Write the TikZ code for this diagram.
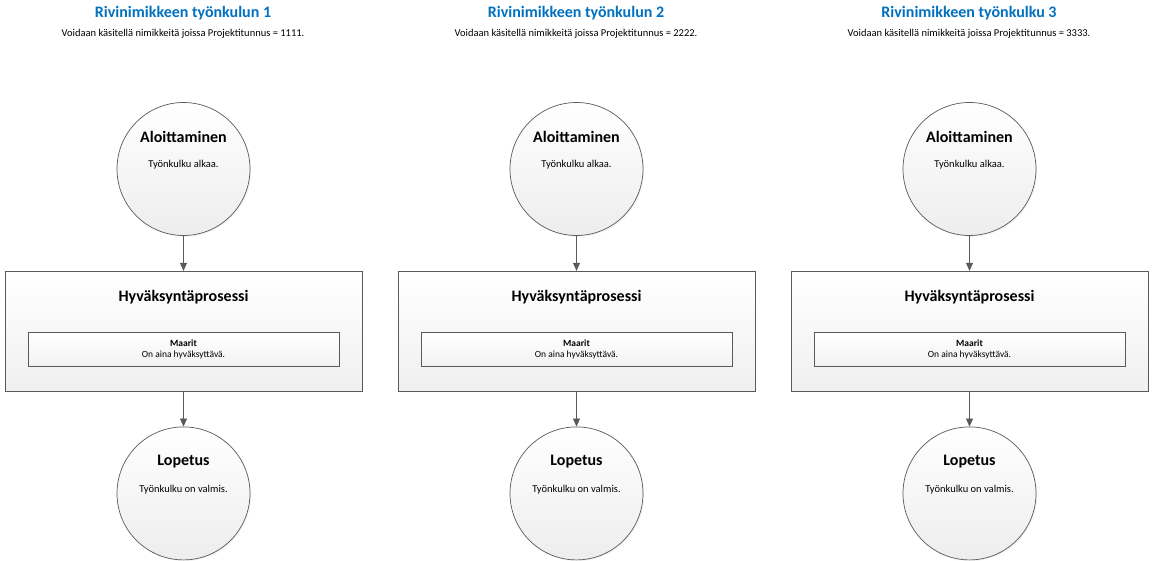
\documentclass[tikz,border=0pt]{standalone}
\usepackage{fontspec}
\setmainfont{Carlito}
\usepackage{xcolor}
\usetikzlibrary{
  positioning,
  arrows.meta,
  calc,
  shadows
}
\definecolor{flowblue}{RGB}{0,112,192}
\definecolor{flowline}{RGB}{90,90,90}

\begin{document}
\begin{tikzpicture}[x=1pt, y=-1pt, node distance=35pt,
  every node/.style={font=\fontsize{10.5}{12}\selectfont, inner sep=0pt},
  heading/.style={font=\fontsize{16}{18}\selectfont\bfseries, text=flowblue},
  subheading/.style={font=\fontsize{10.5}{12}\selectfont},
  state/.style={draw=flowline, line width=0.7pt, circle, minimum size=133pt, top color=white, bottom color=black!7, drop shadow={opacity=0.1, shadow xshift=1.2pt, shadow yshift=-1.2pt}},
  process/.style={draw=flowline, line width=0.7pt, minimum width=357pt, minimum height=120pt, top color=white, bottom color=black!6, drop shadow={opacity=0.1, shadow xshift=1.2pt, shadow yshift=-1.2pt}},
  rule/.style={draw=flowline, line width=0.7pt, minimum width=311pt, minimum height=34pt, top color=white, bottom color=black!5, drop shadow={opacity=0.1, shadow xshift=1pt, shadow yshift=-1pt}},
  bigtitle/.style={font=\fontsize{16}{18}\selectfont\bfseries},
  smalltitle/.style={font=\fontsize{9.5}{11}\selectfont\bfseries},
  smalltext/.style={font=\fontsize{9.5}{11}\selectfont},
  arrow/.style={draw=flowline, line width=0.7pt, -{Triangle[length=8pt, width=7pt]}}
]
\useasboundingbox (0,0) rectangle (1155,561);

% Column 1
\node[heading] (head1) at (183,13) {Rivinimikkeen työnkulun 1};
\node[subheading, below=9pt of head1] (sub1) {Voidaan käsitellä nimikkeitä joissa Projektitunnus = 1111.};
\node[state] (start1) at (183.5,169) {};
\node[bigtitle] (start1t) at ($(start1.center)+(0,-32)$) {Aloittaminen};
\node (start1b) at ($(start1.center)+(0,-4)$) {Työnkulku alkaa.};
\node[process, below=of start1] (appr1) {};
\node[bigtitle] (appr1t) at ($(appr1.north)+(0,26)$) {Hyväksyntäprosessi};
\node[rule] (rule1) at ($(appr1.center)+(0,18)$) {};
\node[smalltitle] (rule1t) at ($(rule1.center)+(0,-6.5)$) {Maarit};
\node[smalltext] (rule1b) at ($(rule1.center)+(0,6)$) {On aina hyväksyttävä.};
\node[state, below=of appr1] (end1) {};
\node[bigtitle] (end1t) at ($(end1.center)+(0,-32)$) {Lopetus};
\node (end1b) at ($(end1.center)+(0,-4)$) {Työnkulku on valmis.};

% Column 2
\node[heading] (head2) at (576,13) {Rivinimikkeen työnkulun 2};
\node[subheading, below=9pt of head2] (sub2) {Voidaan käsitellä nimikkeitä joissa Projektitunnus = 2222.};
\node[state] (start2) at (576.5,169) {};
\node[bigtitle] (start2t) at ($(start2.center)+(0,-32)$) {Aloittaminen};
\node (start2b) at ($(start2.center)+(0,-4)$) {Työnkulku alkaa.};
\node[process, below=of start2] (appr2) {};
\node[bigtitle] (appr2t) at ($(appr2.north)+(0,26)$) {Hyväksyntäprosessi};
\node[rule] (rule2) at ($(appr2.center)+(0,18)$) {};
\node[smalltitle] (rule2t) at ($(rule2.center)+(0,-6.5)$) {Maarit};
\node[smalltext] (rule2b) at ($(rule2.center)+(0,6)$) {On aina hyväksyttävä.};
\node[state, below=of appr2] (end2) {};
\node[bigtitle] (end2t) at ($(end2.center)+(0,-32)$) {Lopetus};
\node (end2b) at ($(end2.center)+(0,-4)$) {Työnkulku on valmis.};

% Column 3
\node[heading] (head3) at (969,13) {Rivinimikkeen työnkulku 3};
\node[subheading, below=9pt of head3] (sub3) {Voidaan käsitellä nimikkeitä joissa Projektitunnus = 3333.};
\node[state] (start3) at (969.5,169) {};
\node[bigtitle] (start3t) at ($(start3.center)+(0,-32)$) {Aloittaminen};
\node (start3b) at ($(start3.center)+(0,-4)$) {Työnkulku alkaa.};
\node[process, below=of start3] (appr3) {};
\node[bigtitle] (appr3t) at ($(appr3.north)+(0,26)$) {Hyväksyntäprosessi};
\node[rule] (rule3) at ($(appr3.center)+(0,18)$) {};
\node[smalltitle] (rule3t) at ($(rule3.center)+(0,-6.5)$) {Maarit};
\node[smalltext] (rule3b) at ($(rule3.center)+(0,6)$) {On aina hyväksyttävä.};
\node[state, below=of appr3] (end3) {};
\node[bigtitle] (end3t) at ($(end3.center)+(0,-32)$) {Lopetus};
\node (end3b) at ($(end3.center)+(0,-4)$) {Työnkulku on valmis.};

% Arrows
\draw[arrow] (start1) -- (appr1);
\draw[arrow] (appr1) -- (end1);
\draw[arrow] (start2) -- (appr2);
\draw[arrow] (appr2) -- (end2);
\draw[arrow] (start3) -- (appr3);
\draw[arrow] (appr3) -- (end3);

\end{tikzpicture}
\end{document}
